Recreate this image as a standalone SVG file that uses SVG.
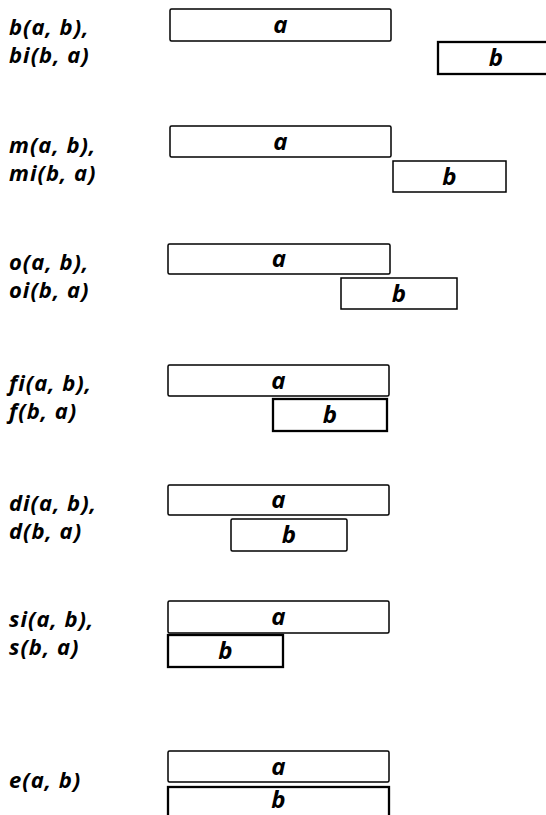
<svg xmlns="http://www.w3.org/2000/svg" width="546" height="815" viewBox="0 0 546 815">
<style>
  text { font-family: "Open Sans", "Liberation Sans", sans-serif; font-weight: bold; font-style: italic; fill: #000; }
  .lbl { text-anchor: start; font-size: 22px; letter-spacing: 1px; }
  .box text { text-anchor: middle; font-size: 24px; }
  .box rect { fill: #fff; stroke: #000; stroke-width: 1.5; }
  .box.thick rect { stroke-width: 2.3; }
</style>
<rect width="546" height="815" fill="#fff"/>

<g id="label-b"><text class="lbl" x="9" y="35">b(a, b),</text><text class="lbl" x="9" y="63">bi(b, a)</text></g>
<g id="row1-a" class="box"><rect x="170" y="9" width="221" height="32" rx="1.5"/><text x="280.5" y="33">a</text></g>
<g id="row1-b" class="box thick"><rect x="438" y="42" width="116" height="32"/><text x="496" y="66">b</text></g>

<g id="label-m"><text class="lbl" x="9" y="153">m(a, b),</text><text class="lbl" x="9" y="181">mi(b, a)</text></g>
<g id="row2-a" class="box"><rect x="170" y="126" width="221" height="31" rx="1.5"/><text x="280.5" y="150">a</text></g>
<g id="row2-b" class="box"><rect x="393" y="161" width="113" height="31"/><text x="449.5" y="185">b</text></g>

<g id="label-o"><text class="lbl" x="9" y="270">o(a, b),</text><text class="lbl" x="9" y="298">oi(b, a)</text></g>
<g id="row3-a" class="box"><rect x="168" y="244" width="222" height="30" rx="1.5"/><text x="279" y="267">a</text></g>
<g id="row3-b" class="box"><rect x="341" y="278" width="116" height="31"/><text x="399" y="302">b</text></g>

<g id="label-f"><text class="lbl" x="9" y="391">fi(a, b),</text><text class="lbl" x="9" y="419">f(b, a)</text></g>
<g id="row4-a" class="box"><rect x="168" y="365" width="221" height="31" rx="1.5"/><text x="278.5" y="389">a</text></g>
<g id="row4-b" class="box thick"><rect x="273" y="399" width="114" height="32"/><text x="330" y="423">b</text></g>

<g id="label-d"><text class="lbl" x="9" y="511">di(a, b),</text><text class="lbl" x="9" y="539">d(b, a)</text></g>
<g id="row5-a" class="box"><rect x="168" y="485" width="221" height="30" rx="1.5"/><text x="278.5" y="508">a</text></g>
<g id="row5-b" class="box"><rect x="231" y="519" width="116" height="32" rx="1.5"/><text x="289" y="543">b</text></g>

<g id="label-s"><text class="lbl" x="9" y="627">si(a, b),</text><text class="lbl" x="9" y="655">s(b, a)</text></g>
<g id="row6-a" class="box"><rect x="168" y="601" width="221" height="32" rx="1.5"/><text x="278.5" y="625">a</text></g>
<g id="row6-b" class="box thick"><rect x="168" y="635" width="115" height="32"/><text x="225.5" y="659">b</text></g>

<g id="label-e"><text class="lbl" x="9" y="788">e(a, b)</text></g>
<g id="row7-a" class="box"><rect x="168" y="751" width="221" height="31" rx="1.5"/><text x="278.5" y="775">a</text></g>
<g id="row7-b" class="box thick"><rect x="168" y="787" width="221" height="34"/><text x="278.5" y="808">b</text></g>
</svg>
